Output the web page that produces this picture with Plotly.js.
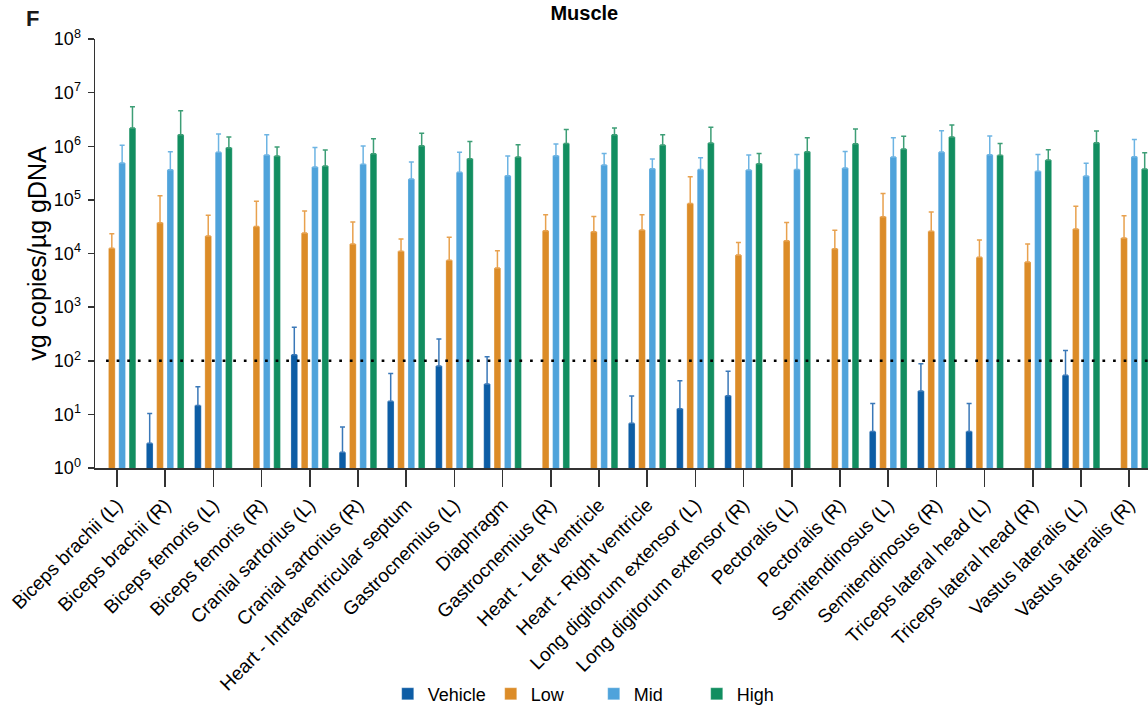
<!DOCTYPE html>
<html>
<head>
<meta charset="utf-8">
<script src="https://cdn.plot.ly/plotly-3.0.1.min.js"></script>
<style>html,body{margin:0;padding:0;background:#fff;}#chart{width:1148px;height:710px;}</style>
</head>
<body>
<div id="chart"></div>
<script>
var categories = [
  "Biceps brachii (L)", "Biceps brachii (R)", "Biceps femoris (L)", "Biceps femoris (R)",
  "Cranial sartorius (L)", "Cranial sartorius (R)", "Heart - Intrtaventricular septum",
  "Gastrocnemius (L)", "Diaphragm", "Gastrocnemius (R)", "Heart - Left ventricle",
  "Heart - Right ventricle", "Long digitorum extensor (L)", "Long digitorum extensor (R)",
  "Pectoralis (L)", "Pectoralis (R)", "Semitendinosus (L)", "Semitendinosus (R)",
  "Triceps lateral head (L)", "Triceps lateral head (R)", "Vastus lateralis (L)", "Vastus lateralis (R)"
];

// mean values (vg copies / µg gDNA) and mean + SD (top of error bar)
var vehicleMean = [null, 2.9, 14.7, null, 130, 1.96, 17.5, 80, 36.8, null, null, 6.8, 12.8, 22.3, null, null, 4.8, 27.3, 4.8, null, 53.4, null];
var vehicleUpper = [null, 10.4, 32.8, null, 420, 5.8, 58, 254, 119, null, null, 22, 42.5, 64, null, null, 16, 88, 16, null, 156, null];

var lowMean = [1.25e4, 3.75e4, 2.12e4, 3.2e4, 2.41e4, 1.5e4, 1.1e4, 7.45e3, 5.36e3, 2.66e4, 2.55e4, 2.74e4, 8.6e4, 9.36e3, 1.73e4, 1.23e4, 4.86e4, 2.59e4, 8.47e3, 6.93e3, 2.86e4, 1.94e4];
var lowUpper = [2.34e4, 1.2e5, 5.14e4, 9.4e4, 6.2e4, 3.86e4, 1.86e4, 2.0e4, 1.13e4, 5.3e4, 4.92e4, 5.3e4, 2.7e5, 1.6e4, 3.8e4, 2.7e4, 1.32e5, 5.93e4, 1.78e4, 1.5e4, 7.57e4, 5.07e4];

var midMean = [4.86e5, 3.65e5, 7.7e5, 6.85e5, 4.1e5, 4.6e5, 2.44e5, 3.26e5, 2.82e5, 6.66e5, 4.46e5, 3.81e5, 3.7e5, 3.6e5, 3.7e5, 3.92e5, 6.3e5, 7.8e5, 6.95e5, 3.4e5, 2.78e5, 6.38e5];
var midUpper = [1.04e6, 7.9e5, 1.69e6, 1.64e6, 9.5e5, 1.01e6, 5.1e5, 7.7e5, 6.56e5, 1.1e6, 7.36e5, 5.77e5, 6.1e5, 6.85e5, 7.05e5, 8.0e5, 1.44e6, 1.95e6, 1.55e6, 7.05e5, 4.8e5, 1.34e6];

var highMean = [2.18e6, 1.64e6, 9.4e5, 6.56e5, 4.28e5, 7.26e5, 1.02e6, 5.86e5, 6.3e5, 1.13e6, 1.64e6, 1.05e6, 1.15e6, 4.72e5, 7.9e5, 1.11e6, 8.87e5, 1.48e6, 6.76e5, 5.53e5, 1.16e6, 3.76e5];
var highUpper = [5.46e6, 4.6e6, 1.48e6, 9.66e5, 8.5e5, 1.38e6, 1.74e6, 1.22e6, 1.07e6, 2.06e6, 2.18e6, 1.64e6, 2.25e6, 7.36e5, 1.44e6, 2.1e6, 1.53e6, 2.48e6, 1.13e6, 8.6e5, 1.92e6, 7.57e5];

var yTickExponents = [0, 1, 2, 3, 4, 5, 6, 7, 8];

var seriesNames = ["Vehicle", "Low", "Mid", "High"];
var seriesColors = ["#0D5DA5", "#DC8C28", "#4FA3DB", "#128E60"];
var errorColors = ["#3A78B8", "#E8A14E", "#6DB4E3", "#3D9E76"];
var limitOfQuantitation = 100;

var means = [vehicleMean, lowMean, midMean, highMean];
var uppers = [vehicleUpper, lowUpper, midUpper, highUpper];

var FONT = "Liberation Sans, Arial, Helvetica, sans-serif";

var traces = seriesNames.map(function (name, i) {
  var m = means[i], u = uppers[i];
  var plus = m.map(function (v, k) { return (v === null || u[k] === null) ? null : u[k] - v; });
  var minus = m.map(function () { return 0; });
  return {
    type: "bar",
    name: name,
    x: categories,
    y: m,
    marker: { color: seriesColors[i], line: { color: "rgba(255,255,255,0.5)", width: 0.5 } },
    error_y: {
      type: "data", symmetric: false, array: plus, arrayminus: minus,
      visible: true, color: errorColors[i], thickness: 1.5, width: 2.5
    },
    hoverinfo: "x+y+name"
  };
});

var layout = {
  width: 1148,
  height: 710,
  paper_bgcolor: "#ffffff",
  plot_bgcolor: "#ffffff",
  margin: { l: 95, r: 0, t: 39, b: 242, autoexpand: false },
  font: { family: FONT, color: "#000000" },
  barmode: "group",
  bargap: 0.143,
  bargroupgap: 0.35,
  title: {
    text: "<b>Muscle</b>",
    font: { family: FONT, size: 20, color: "#000000" },
    xref: "container", x: 0.509, xanchor: "center",
    yref: "container", y: 0.982, yanchor: "middle"
  },
  xaxis: {
    type: "category",
    range: [-0.456, 21.39],
    showline: true, linecolor: "#333333", linewidth: 1.5,
    ticks: "outside", ticklen: 17, tickwidth: 1.5, tickcolor: "#333333",
    tickangle: -45,
    tickfont: { family: FONT, size: 19, color: "#000000" },
    showgrid: false, zeroline: false, automargin: false
  },
  yaxis: {
    type: "log",
    range: [0, 8],
    tickmode: "array",
    tickvals: yTickExponents.map(function (e) { return Math.pow(10, e); }),
    ticktext: yTickExponents.map(function (e) { return "10<sup>" + e + "</sup>"; }),
    showline: true, linecolor: "#333333", linewidth: 1.5,
    ticks: "outside", ticklen: 6, tickwidth: 1.5, tickcolor: "#333333",
    ticklabelstandoff: 3,
    tickfont: { family: FONT, size: 18, color: "#000000" },
    showgrid: false, zeroline: false, automargin: false,
    title: { text: "vg copies/µg gDNA", font: { family: FONT, size: 25, color: "#000000" }, standoff: 0 }
  },
  legend: {
    orientation: "h",
    x: 0.278, xanchor: "left",
    y: -0.527, yanchor: "middle",
    font: { family: FONT, size: 18, color: "#000000" },
    bgcolor: "rgba(0,0,0,0)",
    traceorder: "normal",
    entrywidth: 58
  },
  shapes: [{
    type: "line", xref: "paper", yref: "y",
    x0: 0.0105, x1: 1, y0: limitOfQuantitation, y1: limitOfQuantitation,
    line: { color: "#000000", width: 2.7, dash: "2.7px,7.9px" }
  }],
  annotations: [{
    text: "<b>F</b>", xref: "paper", yref: "paper",
    x: -0.0598, y: 1, xanchor: "center", yanchor: "middle",
    yshift: 21, showarrow: false,
    font: { family: FONT, size: 22, color: "#1a1a1a" }
  }],
  showlegend: true
};

Plotly.newPlot("chart", traces, layout, { displayModeBar: false, staticPlot: true });
</script>
</body>
</html>
